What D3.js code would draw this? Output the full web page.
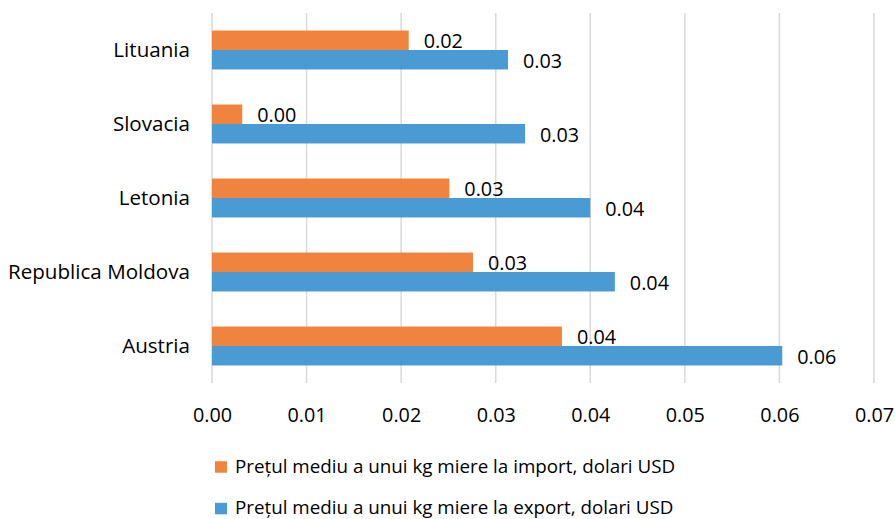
<!DOCTYPE html>
<html><head><meta charset="utf-8">
<script src="https://cdn.jsdelivr.net/npm/d3@7"></script>
<style>body{margin:0;background:#fff}svg text{font-family:"Open Sans",sans-serif;fill:#000}</style>
</head><body><svg id="c" width="895" height="519"></svg>
<script>
const categories = ["Lituania","Slovacia","Letonia","Republica Moldova","Austria"];
const importValues = [0.0208,0.0032,0.0251,0.0276,0.0370];
const exportValues = [0.0313,0.0331,0.0400,0.0426,0.0603];
const seriesNames = ["Prețul mediu a unui kg miere la import, dolari USD","Prețul mediu a unui kg miere la export, dolari USD"];
const seriesColors = ["#F0843F","#4A9AD3"];
const tickValues = [0,0.01,0.02,0.03,0.04,0.05,0.06,0.07];

const svg = d3.select("#c");
const fs = 19.8;
const catFs = 20.6;
const legFs = 18.8;
const x = d3.scaleLinear().domain([0,0.07]).range([212,874]);
const y = d3.scaleBand().domain(categories).range([13,383]).paddingInner(0.4737).paddingOuter(0.2368);
const sub = d3.scaleBand().domain([0,1]).range([0,y.bandwidth()]);

svg.append("g").selectAll("line").data(tickValues).join("line")
  .attr("x1",d=>x(d)).attr("x2",d=>x(d)).attr("y1",13).attr("y2",383)
  .attr("stroke","#d9d9d9").attr("stroke-width",1.5);

const series = [importValues, exportValues];
series.forEach((vals,si)=>{
  const g = svg.append("g");
  g.selectAll("rect").data(categories).join("rect")
    .attr("x",x(0)).attr("y",(d)=>y(d)+sub(si))
    .attr("width",(d,i)=>x(vals[i])-x(0)).attr("height",sub.bandwidth())
    .attr("fill",seriesColors[si]);
  g.selectAll("text").data(categories).join("text")
    .attr("x",(d,i)=>x(vals[i])+15).attr("y",d=>y(d)+sub(si)+sub.bandwidth()/2+8)
    .attr("font-size",fs)
    .text((d,i)=>d3.format(".2f")(vals[i]));
});

svg.append("g").selectAll("text").data(categories).join("text")
  .attr("x",190).attr("y",d=>y(d)+y.bandwidth()/2+7)
  .attr("text-anchor","end").attr("font-size",catFs).text(d=>d);

const xAxis = d3.axisBottom(x).tickValues(tickValues).tickFormat(d3.format(".2f")).tickSize(0).tickPadding(0);
const ax = svg.append("g").attr("transform","translate(0,421.7)").call(xAxis);
ax.select(".domain").remove();
ax.selectAll("text").attr("font-size",fs).attr("font-family","'Open Sans',sans-serif").attr("fill","#000").attr("dy",null).attr("y",0);

const leg = svg.append("g").selectAll("g").data(seriesNames).join("g")
  .attr("transform",(d,i)=>`translate(215,${472.7+i*41.6})`);
leg.append("rect").attr("x",0).attr("y",-11.5).attr("width",12).attr("height",11.5).attr("fill",(d,i)=>seriesColors[i]);
leg.append("text").attr("x",20).attr("y",0).attr("font-size",legFs).text(d=>d);
</script></body></html>
